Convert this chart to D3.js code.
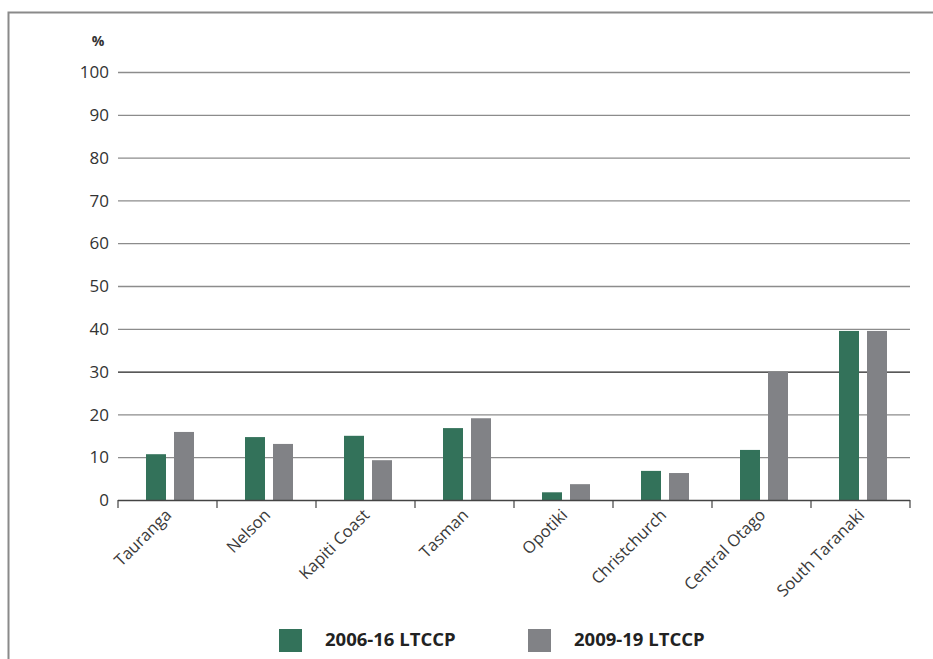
<!DOCTYPE html>
<html>
<head>
<meta charset="utf-8">
<script src="https://cdn.jsdelivr.net/npm/d3@7"></script>
<style>
    body { margin: 0; background: #fff; }
    svg { display: block; font-family: "Open Sans", "Noto Sans", sans-serif; }
</style>
</head>
<body>
<div id="chart"></div>
<script>

// councils along the x axis
var categories = ["Tauranga", "Nelson", "Kapiti Coast", "Tasman", "Opotiki",
    "Christchurch", "Central Otago", "South Taranaki"];

// percentages
var ltccp0616 = [10.7, 14.7, 15.0, 16.8, 1.8, 6.8, 11.7, 39.5];
var ltccp0919 = [15.9, 13.1, 9.3, 19.1, 3.7, 6.3, 30.0, 39.5];

var seriesNames = ["2006-16 LTCCP", "2009-19 LTCCP"];
var seriesColors = ["#33725a", "#818286"];
var yTicks = [0, 10, 20, 30, 40, 50, 60, 70, 80, 90, 100];

var width = 933,
    height = 659;

var svg = d3.select("#chart")
    .append("svg")
    .attr("width", width)
    .attr("height", height);

// frame (left and top edges only show)
svg.append("rect")
    .attr("x", 8.5)
    .attr("y", 12.5)
    .attr("width", 1000)
    .attr("height", 700)
    .attr("fill", "none")
    .attr("stroke", "#8a8a8a")
    .attr("stroke-width", 2);

// plot area
var plotLeft = 118, plotRight = 910, plotTop = 72, plotBottom = 500;

var xScale = d3.scaleBand()
    .domain(categories)
    .range([plotLeft, plotRight]);

var yScale = d3.scaleLinear()
    .domain([0, 100])
    .range([plotBottom, plotTop]);

// gridlines
svg.append("g")
    .selectAll("line")
    .data(yTicks.filter(function(d) { return d > 0; }))
    .enter()
    .append("line")
        .attr("x1", plotLeft)
        .attr("x2", plotRight)
        .attr("y1", function(d) { return yScale(d) + 0.5; })
        .attr("y2", function(d) { return yScale(d) + 0.5; })
        .attr("stroke", function(d) { return d === 30 ? "#222" : "#8c8c8c"; })
        .attr("stroke-width", 1.3);

// y tick labels
svg.append("g")
    .selectAll("text")
    .data(yTicks)
    .enter()
    .append("text")
        .attr("x", 109)
        .attr("y", function(d) { return yScale(d); })
        .attr("dy", "0.36em")
        .attr("text-anchor", "end")
        .attr("font-size", "17px")
        .attr("fill", "#333")
        .text(function(d) { return d; });

svg.append("text")
    .attr("x", 98)
    .attr("y", 46)
    .attr("text-anchor", "middle")
    .attr("font-size", "14px")
    .attr("font-weight", "bold")
    .attr("fill", "#333")
    .text("%");

// bars: 20px wide, 8px apart inside each band
var inner = d3.scaleBand()
    .domain([0, 1])
    .range([28, 76])
    .paddingInner(8 / 28);

var groups = svg.append("g")
    .selectAll("g")
    .data(categories)
    .enter()
    .append("g")
        .attr("transform", function(d) { return "translate(" + xScale(d) + ",0)"; });

groups.selectAll("rect")
    .data(function(d, i) { return [ltccp0616[i], ltccp0919[i]]; })
    .enter()
    .append("rect")
        .attr("x", function(d, j) { return inner(j); })
        .attr("width", inner.bandwidth())
        .attr("y", function(d) { return yScale(d); })
        .attr("height", function(d) { return plotBottom - yScale(d); })
        .attr("fill", function(d, j) { return seriesColors[j]; });

// x axis line
svg.append("line")
    .attr("x1", plotLeft).attr("x2", plotRight)
    .attr("y1", plotBottom + 0.5).attr("y2", plotBottom + 0.5)
    .attr("stroke", "#444")
    .attr("stroke-width", 1.5);

// tick marks at band edges
svg.append("g")
    .selectAll("line")
    .data(categories.concat(["end"]))
    .enter()
    .append("line")
        .attr("x1", function(d, i) { return plotLeft + i * xScale.step(); })
        .attr("x2", function(d, i) { return plotLeft + i * xScale.step(); })
        .attr("y1", plotBottom)
        .attr("y2", plotBottom + 8)
        .attr("stroke", "#444")
        .attr("stroke-width", 1.2);

// rotated category labels
svg.append("g")
    .selectAll("text")
    .data(categories)
    .enter()
    .append("text")
        .attr("transform", function(d) {
            return "translate(" + (xScale(d) + xScale.bandwidth() / 2 + 5) + "," + (plotBottom + 16) + ") rotate(-45)";
        })
        .attr("text-anchor", "end")
        .attr("font-size", "16.5px")
        .attr("fill", "#3a3a3a")
        .text(function(d) { return d; });

// legend
var legend = svg.append("g")
    .selectAll("g")
    .data(seriesNames)
    .enter()
    .append("g")
        .attr("transform", function(d, i) { return "translate(" + (279 + i * 249) + ",629)"; });

legend.append("rect")
    .attr("width", 23)
    .attr("height", 23)
    .attr("fill", function(d, i) { return seriesColors[i]; });

legend.append("text")
    .attr("x", 46)
    .attr("y", 17)
    .attr("font-size", "18.5px")
    .attr("font-weight", "bold")
    .attr("fill", "#222")
    .text(function(d) { return d; });

</script>
</body>
</html>
